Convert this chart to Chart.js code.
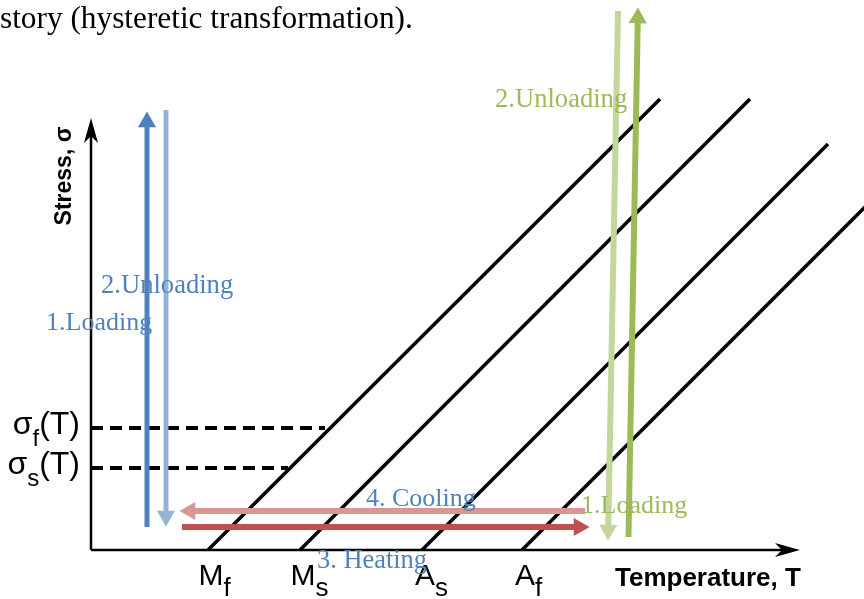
<!DOCTYPE html>
<html>
<head>
<meta charset="utf-8">
<script src="https://cdn.jsdelivr.net/npm/chart.js@4.4.1/dist/chart.umd.min.js"></script>
<style>
  html, body { margin: 0; padding: 0; background: #ffffff; overflow: hidden; }
  canvas { display: block; }
</style>
</head>
<body>
<canvas id="diagram" width="864" height="599"></canvas>
<script>
// Transformation boundaries: temperature where each line leaves the T axis, and its upper end
const phaseLetters = ['M', 'M', 'A', 'A'];
const phaseSubs = ['f', 's', 's', 'f'];
const startTemps = [117, 209, 331, 431];
const endTemps = [569, 659, 737, 800];
const endStress = [451, 451, 406, 369];

// Critical stresses sigma_f(T) and sigma_s(T) with the end of their dashed guides
const criticalSubs = ['f', 's'];
const criticalStress = [122, 82];
const criticalEndTemps = [234, 197];

// Load / thermal paths, [from, to] as temperature and stress
const blueLoadT = [56, 56];          const blueLoadS = [23, 428];
const blueUnloadT = [75, 75];        const blueUnloadS = [440, 34];
const heatT = [91, 488];             const heatS = [23, 23];
const coolT = [494, 99];             const coolS = [39, 39];
const greenLoadT = [537.5, 546.8];   const greenLoadS = [13, 532];
const greenUnloadT = [527, 517.2];   const greenUnloadS = [539, 20];

// Axis extents
const axisMaxT = 701;
const axisMaxS = 424;

const BLUE = '#4F81BD', BLUE_LIGHT = '#95B3D7';
const RED = '#C0504D', RED_LIGHT = '#DA9694';
const GREEN = '#9BBB59', GREEN_LIGHT = '#C3D69B';
const SERIF = '"Liberation Serif", "Times New Roman", serif';
const SANS = '"Liberation Sans", Arial, sans-serif';

function pts(T, S) { return T.map((t, i) => ({ x: t, y: S[i] })); }

function headAngle(chart, T, S) {
  const xs = chart.scales.x, ys = chart.scales.y;
  const dx = xs.getPixelForValue(T[1]) - xs.getPixelForValue(T[0]);
  const dy = ys.getPixelForValue(S[1]) - ys.getPixelForValue(S[0]);
  return Math.atan2(dx, -dy) * 180 / Math.PI;
}

function arrow(T, S, color, width) {
  return {
    data: pts(T, S),
    showLine: true,
    borderColor: color,
    backgroundColor: color,
    borderWidth: width,
    borderCapStyle: 'butt',
    pointStyle: 'triangle',
    pointRadius: [0, 10.5],
    pointHoverRadius: 0,
    pointBorderWidth: 0,
    pointBackgroundColor: color,
    pointRotation: ctx => headAngle(ctx.chart, T, S)
  };
}

function plain(data, color, width, dash) {
  return {
    data: data,
    showLine: true,
    borderColor: color,
    borderWidth: width,
    borderDash: dash || [],
    borderCapStyle: 'butt',
    pointRadius: 0,
    pointHoverRadius: 0
  };
}

const datasets = [
  arrow(greenLoadT, greenLoadS, GREEN, 6),
  arrow(greenUnloadT, greenUnloadS, GREEN_LIGHT, 6),
  arrow(heatT, heatS, RED, 6),
  arrow(coolT, coolS, RED_LIGHT, 6),
  arrow(blueLoadT, blueLoadS, BLUE, 5),
  arrow(blueUnloadT, blueUnloadS, BLUE_LIGHT, 5)
];
startTemps.forEach((t, i) => {
  datasets.push(plain([{ x: t, y: 0 }, { x: endTemps[i], y: endStress[i] }], '#000000', 3.5));
});
criticalStress.forEach((s, i) => {
  datasets.push(plain([{ x: 0, y: s }, { x: criticalEndTemps[i], y: s }], '#000000', 4, [12, 7]));
});
datasets.push(plain([{ x: 0, y: 0 }, { x: axisMaxT, y: 0 }], '#000000', 2.5));
datasets.push(plain([{ x: 0, y: 0 }, { x: 0, y: axisMaxS }], '#000000', 2.5));

// Text placed on the diagram (anchor = left end of the baseline)
const notes = [
  { text: '2.Unloading', t: 10, s: 257, color: BLUE, size: 26.6 },
  { text: '1.Loading', t: -45, s: 220, color: BLUE, size: 26 },
  { text: '2.Unloading', t: 404, s: 443, color: GREEN, size: 26.6 },
  { text: '1.Loading', t: 490, s: 37, color: GREEN, size: 26 },
  { text: '4. Cooling', t: 275, s: 44, color: BLUE, size: 26 },
  { text: '3. Heating', t: 226, s: -18, color: BLUE, size: 26.4 }
];

function stealth(ctx, tipX, tipY, ux, uy) {
  const L = 25, W = 7, notch = 7;
  const nx = -uy, ny = ux;
  ctx.beginPath();
  ctx.moveTo(tipX, tipY);
  ctx.lineTo(tipX - L * ux + W * nx, tipY - L * uy + W * ny);
  ctx.lineTo(tipX - (L - notch) * ux, tipY - (L - notch) * uy);
  ctx.lineTo(tipX - L * ux - W * nx, tipY - L * uy - W * ny);
  ctx.closePath();
  ctx.fillStyle = '#000000';
  ctx.fill();
}

// Letter with a lowered suffix, optionally followed by more text
function subText(ctx, main, sub, tail, left, base, mainSize, subSize, drop) {
  ctx.textAlign = 'left';
  ctx.textBaseline = 'alphabetic';
  ctx.fillStyle = '#000000';
  ctx.font = mainSize + 'px ' + SANS;
  ctx.fillText(main, left, base);
  let x = left + ctx.measureText(main).width;
  ctx.font = subSize + 'px ' + SANS;
  ctx.fillText(sub, x, base + drop);
  x += ctx.measureText(sub).width;
  if (tail) {
    ctx.font = mainSize + 'px ' + SANS;
    ctx.fillText(tail, x, base);
  }
}

function subWidth(ctx, main, sub, tail, mainSize, subSize) {
  ctx.font = mainSize + 'px ' + SANS;
  let w = ctx.measureText(main).width + (tail ? ctx.measureText(tail).width : 0);
  ctx.font = subSize + 'px ' + SANS;
  return w + ctx.measureText(sub).width;
}

const notesPlugin = {
  id: 'notes',
  afterDatasetsDraw(chart) {
    const ctx = chart.ctx;
    const xs = chart.scales.x, ys = chart.scales.y;
    const px = v => xs.getPixelForValue(v);
    const py = v => ys.getPixelForValue(v);
    ctx.save();

    // axis arrowheads
    stealth(ctx, px(axisMaxT) + 8, py(0), 1, 0);
    stealth(ctx, px(0), py(axisMaxS) - 8, 0, -1);

    // temperature marks under the T axis
    startTemps.forEach((t, i) => {
      ctx.font = '30px ' + SANS;
      const wm = ctx.measureText(phaseLetters[i]).width;
      subText(ctx, phaseLetters[i], phaseSubs[i], '', px(t) + 3 - wm / 2, py(0) + 35, 30, 26, 11);
    });

    // critical stress labels left of the sigma axis
    criticalStress.forEach((s, i) => {
      const w = subWidth(ctx, '\u03C3', criticalSubs[i], '(T)', 32, 24);
      subText(ctx, '\u03C3', criticalSubs[i], '(T)', px(0) - 11 - w, py(s) + 6, 32, 24, 12);
    });

    // axis titles
    ctx.fillStyle = '#000000';
    ctx.font = 'bold 26px ' + SANS;
    ctx.textAlign = 'left';
    ctx.textBaseline = 'alphabetic';
    ctx.fillText('Temperature, T', px(524), py(-36));
    ctx.save();
    ctx.translate(px(-26), py(374));
    ctx.rotate(-Math.PI / 2);
    ctx.font = 'bold 23px ' + SANS;
    ctx.textAlign = 'center';
    ctx.textBaseline = 'middle';
    ctx.fillText('Stress, \u03C3', 0, 0);
    ctx.restore();

    // path annotations
    notes.forEach(n => {
      ctx.font = n.size + 'px ' + SERIF;
      ctx.fillStyle = n.color;
      ctx.textAlign = 'left';
      ctx.textBaseline = 'alphabetic';
      ctx.fillText(n.text, px(n.t), py(n.s));
    });

    // running text line above the figure
    ctx.font = '31.3px ' + SERIF;
    ctx.fillStyle = '#000000';
    ctx.fillText('story (hysteretic transformation).', 0, 28);

    ctx.restore();
  }
};

new Chart(document.getElementById('diagram'), {
  type: 'scatter',
  data: { datasets: datasets },
  options: {
    responsive: false,
    animation: false,
    events: [],
    layout: { padding: 0, autoPadding: false },
    plugins: { legend: { display: false }, tooltip: { enabled: false } },
    scales: {
      x: { type: 'linear', min: -91, max: 773, display: false },
      y: { type: 'linear', min: -49, max: 550, display: false }
    }
  },
  plugins: [notesPlugin]
});
</script>
</body>
</html>
